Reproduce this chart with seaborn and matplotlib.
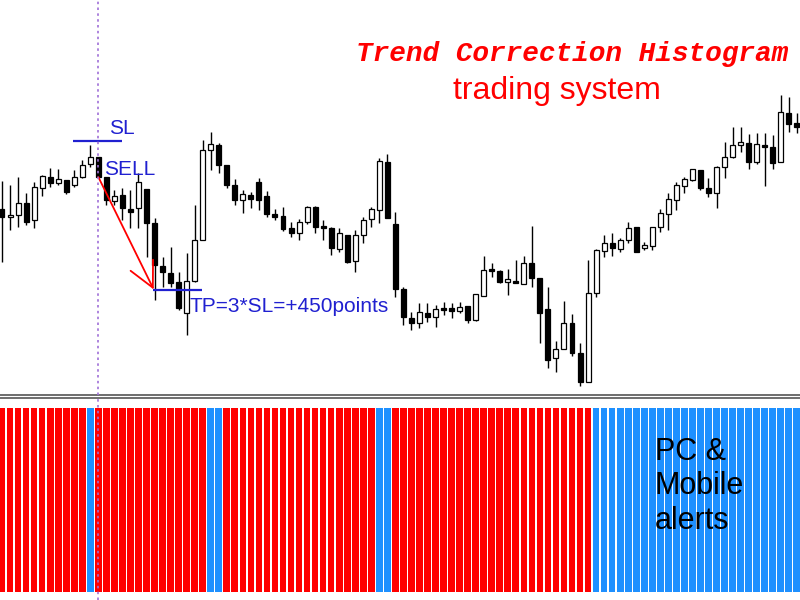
import matplotlib
matplotlib.use('Agg')
import matplotlib.pyplot as plt
import numpy as np
import pandas as pd
import seaborn as sns

# ── candle values (chart points, higher = up) ──
opens = [191, 183, 185, 197, 180, 212, 223, 217, 220, 215,
         223, 236, 243, 223, 199, 205, 191, 192, 211, 177,
         134, 127, 118, 87, 119, 160, 250, 255, 235, 215,
         200, 205, 218, 204, 186, 184, 172, 167, 178, 193,
         174, 172, 151, 165, 139, 165, 181, 190, 238, 176,
         111, 82, 77, 87, 83, 92, 92, 89, 94, 80,
         104, 131, 129, 118, 119, 116, 137, 122, 91, 42,
         51, 77, 47, 18, 107, 149, 157, 151, 160, 173,
         152, 154, 173, 186, 200, 214, 220, 230, 212, 207,
         233, 243, 255, 257, 238, 255, 253, 238, 287, 277]
highs = [219, 215, 223, 207, 218, 225, 232, 231, 220, 230,
         240, 255, 243, 223, 210, 212, 210, 227, 211, 182,
         143, 153, 128, 147, 195, 260, 268, 257, 235, 221,
         210, 208, 222, 209, 191, 193, 178, 181, 194, 194,
         180, 173, 172, 165, 170, 183, 193, 242, 246, 188,
         113, 88, 97, 97, 95, 98, 97, 98, 94, 106,
         144, 137, 130, 131, 140, 144, 174, 122, 113, 59,
         99, 86, 57, 140, 151, 165, 167, 162, 178, 173,
         158, 173, 191, 207, 218, 223, 231, 230, 222, 234,
         258, 273, 273, 266, 267, 267, 265, 305, 303, 287]
lows = [138, 170, 173, 175, 172, 204, 213, 215, 206, 213,
        222, 233, 223, 195, 195, 180, 172, 172, 143, 100,
        113, 113, 90, 65, 118, 160, 230, 227, 212, 195,
        187, 192, 190, 183, 180, 169, 163, 160, 176, 167,
        160, 145, 148, 137, 128, 157, 173, 177, 182, 103,
        75, 70, 72, 78, 73, 85, 82, 87, 77, 79,
        104, 123, 117, 105, 117, 116, 113, 57, 32, 28,
        51, 44, 14, 18, 103, 143, 144, 148, 157, 148,
        150, 150, 168, 170, 190, 207, 219, 210, 203, 192,
        222, 242, 248, 231, 236, 214, 231, 238, 268, 267]
closes = [183, 185, 197, 178, 213, 224, 217, 221, 208, 223,
          235, 243, 223, 200, 204, 192, 188, 218, 177, 135,
          128, 117, 92, 119, 160, 250, 256, 235, 215, 200,
          206, 201, 200, 186, 183, 171, 167, 178, 193, 173,
          172, 152, 167, 138, 165, 180, 191, 239, 182, 111,
          83, 77, 88, 83, 91, 90, 89, 93, 80, 106,
          130, 129, 118, 121, 117, 137, 122, 87, 40, 51,
          77, 47, 18, 107, 150, 157, 152, 160, 172, 148,
          155, 173, 187, 201, 215, 221, 231, 212, 207, 233,
          243, 255, 258, 238, 256, 253, 237, 288, 276, 273]

# ── histogram state per bar ──
blue_bars = [11, 26, 27, 47, 48] + list(range(74, 100))
hist_state = ['up' if i in blue_bars else 'down' for i in range(len(opens))]
hist_value = [1.0] * len(opens)

# ── trade markup ──
signal_bar = 12
sl_level, tp_level = 259, 110
sl_span = (8.84, 14.94)
tp_span = (18.8, 24.9)
arrow_from = (12.0, 223)
arrow_to = (18.9, 110.5)

BLUE_TXT = '#2020D0'
RED = '#FF0000'
HIST_RED = '#FF0000'
HIST_BLUE = '#1E90FF'
VLINE = '#A070D8'

sns.set_style('white')
plt.rcParams['font.family'] = ['Liberation Sans', 'DejaVu Sans']

fig = plt.figure(figsize=(8, 6), dpi=100)
ax = fig.add_axes([0, 205 / 600, 1, 395 / 600])
axh = fig.add_axes([0, 0, 1, 202 / 600])

x = np.arange(len(opens))
o = np.array(opens, float)
c = np.array(closes, float)
bottom = np.minimum(o, c)
height = np.maximum(np.abs(c - o), 1.5)
face = ['white' if cc >= oo else 'black' for oo, cc in zip(o, c)]

ax.vlines(x, lows, highs, color='black', lw=1.0, zorder=1)
ax.bar(x, height, bottom=bottom, width=0.62, color=face,
       edgecolor='black', linewidth=0.9, zorder=2)

ax.set_xlim(-0.25, 99.4)
ax.set_ylim(5, 400)

# trade annotations
ax.hlines(sl_level, *sl_span, color=BLUE_TXT, lw=1.6, zorder=3)
ax.hlines(tp_level, *tp_span, color=BLUE_TXT, lw=1.6, zorder=3)
ax.text(13.33, 266, 'SL', color=BLUE_TXT, fontsize=15, va='baseline')
ax.text(12.7, 225, 'SELL', color=BLUE_TXT, fontsize=15, va='baseline')
ax.text(23.41, 88.3, 'TP=3*SL=+450points', color=BLUE_TXT, fontsize=15,
        va='baseline')
ax.annotate('', xy=arrow_to, xytext=arrow_from,
            arrowprops=dict(arrowstyle='->,head_length=0.6,head_width=0.3',
                            color=RED, lw=1.3, mutation_scale=30,
                            shrinkA=0, shrinkB=0), zorder=4)
ax.axvline(signal_bar, color=VLINE, ls=(0, (1.5, 2)), lw=1.2, zorder=5)

# ── histogram ──
hist_df = pd.DataFrame({'bar': x, 'value': hist_value, 'state': hist_state})
sns.barplot(data=hist_df, x='bar', y='value', hue='state',
            palette={'down': HIST_RED, 'up': HIST_BLUE}, dodge=False,
            width=0.83, saturation=1, errorbar=None, linewidth=0,
            legend=False, ax=axh, zorder=1)
axh.set_xlim(-0.25, 99.4)
axh.set_ylim(-0.0435, 1.054)
axh.axvline(signal_bar, color=VLINE, ls=(0, (1.5, 2)), lw=1.2, zorder=5)
axh.text(81.3, 0.575, 'PC &\nMobile\nalerts', color='black', fontsize=22,
         ha='left', va='center', linespacing=1.2)

for a in (ax, axh):
    a.set_xticks([])
    a.set_yticks([])
    a.set_xlabel('')
    a.set_ylabel('')
    for s in a.spines.values():
        s.set_visible(False)
ax.spines['bottom'].set_visible(True)
ax.spines['bottom'].set_color('#555555')
ax.spines['bottom'].set_linewidth(1.2)
axh.spines['top'].set_visible(True)
axh.spines['top'].set_color('#555555')
axh.spines['top'].set_linewidth(1.2)

fig.text(572 / 800, 1 - 61 / 600, 'Trend Correction Histogram', color=RED,
         fontsize=20, fontweight='bold', fontstyle='italic',
         family=['Liberation Mono', 'DejaVu Sans Mono'], ha='center',
         va='baseline')
fig.text(557 / 800, 1 - 99 / 600, 'trading system', color=RED, fontsize=23,
         ha='center', va='baseline')

fig.savefig('out.png', dpi=100, facecolor='white')
